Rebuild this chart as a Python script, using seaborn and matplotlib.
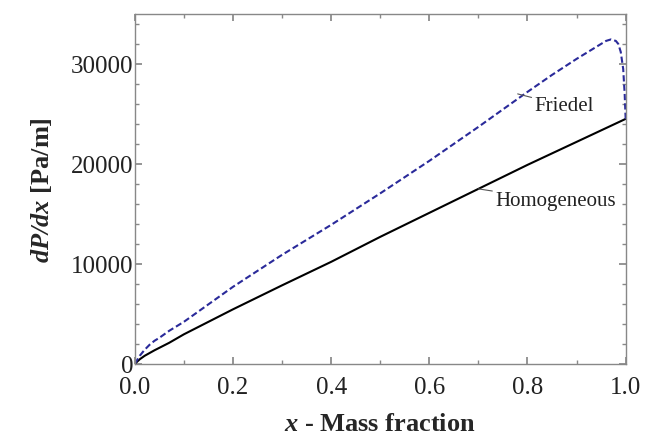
import matplotlib
matplotlib.use("Agg")
import matplotlib.pyplot as plt
import seaborn as sns
import pandas as pd
from matplotlib.ticker import MultipleLocator

# valores
x_homog = [0.0, 0.01, 0.02, 0.04, 0.07, 0.1, 0.15, 0.2, 0.3, 0.4, 0.5, 0.6, 0.7, 0.8, 0.9, 1.0]
dpdx_homog = [0, 450, 800, 1350, 2100, 2950, 4200, 5450, 7850, 10200, 12700, 15100, 17500, 19900, 22200, 24500]

x_fried = [0.0, 0.01, 0.02, 0.03, 0.04, 0.05, 0.07, 0.1, 0.2, 0.3, 0.4, 0.5, 0.6, 0.7,
           0.8, 0.85, 0.9, 0.93, 0.95, 0.96, 0.97, 0.98, 0.985, 0.99, 0.995, 0.998, 1.0]
dpdx_fried = [0, 800, 1400, 1900, 2300, 2600, 3300, 4200, 7700, 10900, 13900, 17050, 20300, 23700,
              27200, 28900, 30500, 31400, 32000, 32300, 32450, 32300, 32000, 31200, 29500, 27000, 24500]

sns.set_theme(style="ticks")
plt.rcParams['font.family'] = ['Liberation Serif', 'DejaVu Serif']
plt.rcParams['mathtext.fontset'] = 'custom'
plt.rcParams['mathtext.bfit'] = 'Liberation Serif:bold:italic'
plt.rcParams['mathtext.it'] = 'Liberation Serif:italic'
plt.rcParams['mathtext.rm'] = 'Liberation Serif'

df_h = pd.DataFrame({'x': x_homog, 'dpdx': dpdx_homog})
df_f = pd.DataFrame({'x': x_fried, 'dpdx': dpdx_fried})

fig = plt.figure(figsize=(6.45, 4.39), dpi=100)
ax = fig.add_axes([0.209, 0.169, 0.761, 0.797])

sns.lineplot(data=df_h, x='x', y='dpdx', ax=ax, color='black', lw=1.5)
sns.lineplot(data=df_f, x='x', y='dpdx', ax=ax, color='#2a2a9a', lw=1.5, linestyle=(0, (3, 1.5)))

ax.set_xlim(0, 1)
ax.set_ylim(0, 35000)
ax.xaxis.set_major_locator(MultipleLocator(0.2))
ax.xaxis.set_minor_locator(MultipleLocator(0.1))
ax.yaxis.set_major_locator(MultipleLocator(10000))
ax.yaxis.set_minor_locator(MultipleLocator(2000))
ax.xaxis.set_major_formatter(plt.FuncFormatter(lambda v, p: f"{v:.1f}"))
ax.yaxis.set_major_formatter(plt.FuncFormatter(lambda v, p: f"{int(v)}"))
ax.tick_params(which='both', direction='in', top=True, right=True, color='#888888',
               labelsize=18, labelcolor='#222222')
ax.tick_params(axis='x', which='both', pad=9)
ax.tick_params(axis='y', which='both', pad=1)
ax.tick_params(which='major', length=5)
ax.tick_params(which='minor', length=3)
for s in ax.spines.values():
    s.set_color('#888888')
    s.set_linewidth(1)

ax.set_xlabel(r'$\mathbfit{x}$ - Mass fraction', fontsize=19, fontweight='bold', labelpad=10)
ax.set_ylabel(r'$\mathbfit{dP/dx}$ [Pa/m]', fontsize=19, fontweight='bold', labelpad=12)

ax.annotate('Friedel', xy=(0.78, 27000), xytext=(0.815, 25800), fontsize=15,
            va='center', ha='left', color='#222222',
            arrowprops=dict(arrowstyle='-', color='#555555', lw=0.8, shrinkA=0, shrinkB=0))
ax.annotate('Homogeneous', xy=(0.70, 17500), xytext=(0.735, 16300), fontsize=15,
            va='center', ha='left', color='#222222',
            arrowprops=dict(arrowstyle='-', color='#555555', lw=0.8, shrinkA=0, shrinkB=0))

fig.savefig('out.png', dpi=100)
